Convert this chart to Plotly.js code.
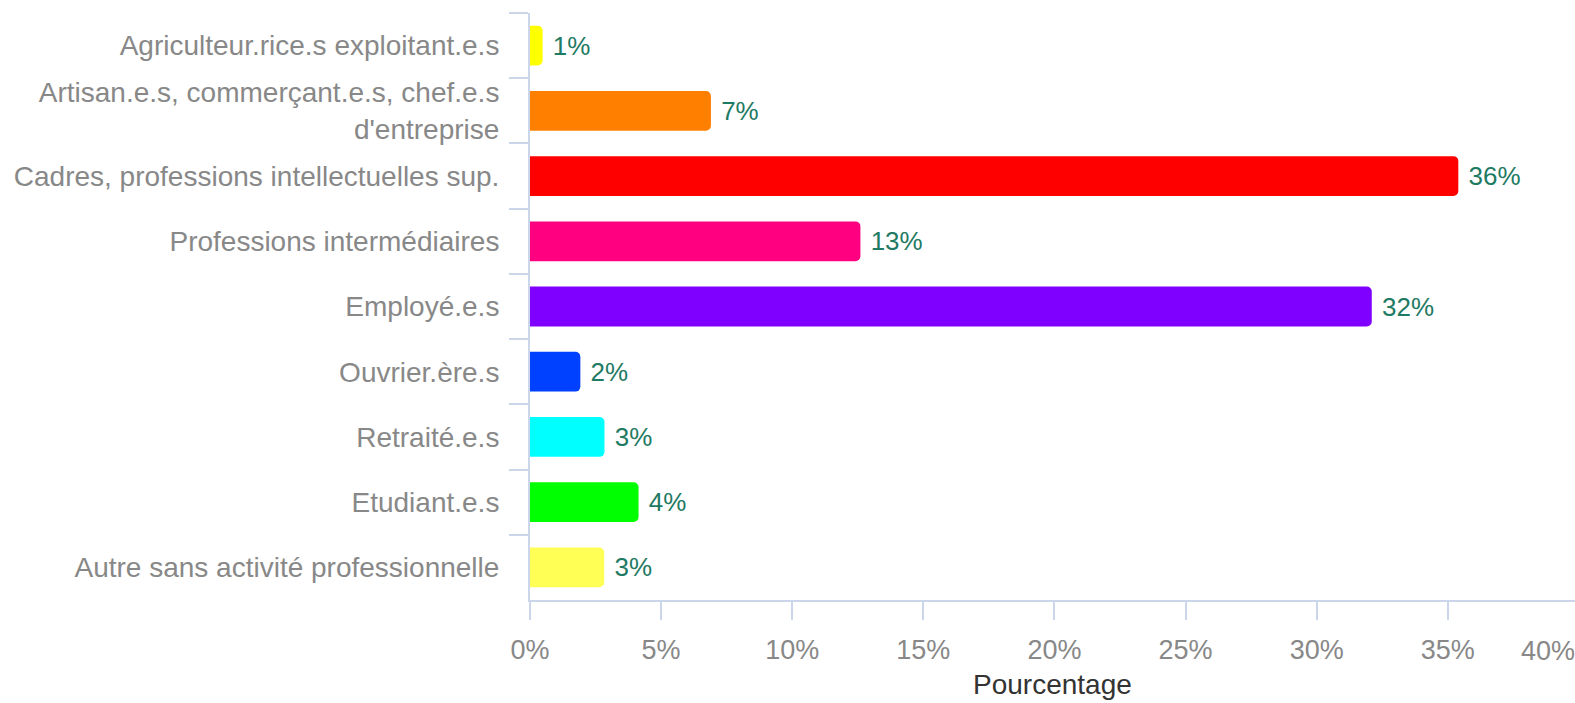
<!DOCTYPE html>
<html>
<head>
<meta charset="utf-8">
<script src="https://cdn.plot.ly/plotly-3.0.1.min.js"></script>
<style>
html,body{margin:0;padding:0;background:#fff;}
#chart{width:1575px;height:703px;}
</style>
</head>
<body>
<div id="chart"></div>
<script>
const categories = [
  "Agriculteur.rice.s exploitant.e.s",
  "Artisan.e.s, commerçant.e.s, chef.e.s<br>d'entreprise",
  "Cadres, professions intellectuelles sup.",
  "Professions intermédiaires",
  "Employé.e.s",
  "Ouvrier.ère.s",
  "Retraité.e.s",
  "Etudiant.e.s",
  "Autre sans activité professionnelle"
];
const values = [0.48, 6.9, 35.4, 12.6, 32.1, 1.92, 2.84, 4.14, 2.83];
const labels = ["1%", "7%", "36%", "13%", "32%", "2%", "3%", "4%", "3%"];
const colors = ["#ffff00", "#ff8000", "#ff0000", "#ff0080", "#8000ff", "#0040ff", "#00ffff", "#00ff00", "#ffff55"];
const xTickVals = [0, 5, 10, 15, 20, 25, 30, 35];
const xTickText = ["0%", "5%", "10%", "15%", "20%", "25%", "30%", "35%"];
const lastTickText = "40%";
const xTitle = "Pourcentage";

const FONT = "Liberation Sans, Arial, sans-serif";
const AXIS = "#ccd6eb";

const trace = {
  type: "bar",
  orientation: "h",
  x: values,
  y: categories,
  text: labels.map(t => " " + t),
  textposition: "outside",
  constraintext: "none",
  textfont: {family: FONT, size: 26, color: "#1f7a63"},
  cliponaxis: false,
  marker: {color: colors, line: {width: 0}},
  hoverinfo: "none"
};

const layout = {
  width: 1575,
  height: 703,
  margin: {l: 530, r: 0, t: 13, b: 103},
  paper_bgcolor: "#fff",
  plot_bgcolor: "#fff",
  showlegend: false,
  bargap: 0.39,
  barcornerradius: 5,
  font: {family: FONT, color: "#888"},
  xaxis: {
    range: [0, 39.85],
    tickvals: xTickVals,
    ticktext: xTickText,
    showgrid: false,
    zeroline: false,
    showline: true,
    linecolor: AXIS,
    linewidth: 2,
    ticks: "outside",
    ticklen: 18,
    tickwidth: 2,
    tickcolor: AXIS,
    tickfont: {family: FONT, size: 27, color: "#888"},
    ticklabelstandoff: 7,
    fixedrange: true
  },
  yaxis: {
    type: "category",
    autorange: "reversed",
    showgrid: false,
    zeroline: false,
    showline: true,
    linecolor: AXIS,
    linewidth: 2,
    ticks: "outside",
    tickson: "boundaries",
    ticklen: 19,
    tickwidth: 2,
    tickcolor: AXIS,
    tickfont: {family: FONT, size: 28, color: "#888"},
    ticklabelstandoff: 23,
    fixedrange: true
  },
  annotations: [{
    text: lastTickText,
    xref: "paper", yref: "paper",
    x: 1, y: -0.082,
    xanchor: "right", yanchor: "middle",
    xshift: 2, yshift: -3,
    showarrow: false,
    font: {family: FONT, size: 27, color: "#888"}
  }, {
    text: xTitle,
    xref: "paper", yref: "paper",
    x: 0.5, y: -0.1448,
    xanchor: "center", yanchor: "middle",
    borderpad: 0,
    showarrow: false,
    font: {family: FONT, size: 28, color: "#333"}
  }]
};

Plotly.newPlot("chart", [trace], layout, {displayModeBar: false, staticPlot: true});
</script>
</body>
</html>
